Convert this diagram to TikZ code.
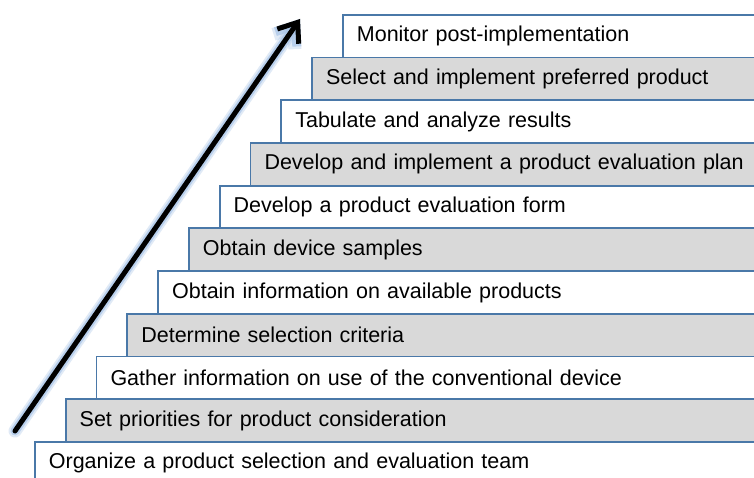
\documentclass[tikz,border=0pt]{standalone}
\usepackage{fontspec}
\setmainfont{Liberation Sans}
\usetikzlibrary{arrows.meta}
\definecolor{barblue}{HTML}{4A78A8}
\definecolor{bargray}{HTML}{D9D9D9}
\definecolor{glowblue}{HTML}{A8C4E8}
\begin{document}
\begin{tikzpicture}[x=1pt,y=-1pt,
  stepbar/.style={draw=barblue, line width=1.8pt, anchor=north west,
    minimum height=42.7pt, inner xsep=14pt, align=left,
    font=\fontsize{21.5}{26}\selectfont, text=black},
  glowline/.style={draw=glowblue, line cap=round, line join=round},
  arrowline/.style={draw=black, line width=5pt, line cap=round, line join=round}]
\useasboundingbox (0,0) rectangle (754,478);
\fill[white] (0,0) rectangle (754,478);
\begin{scope}
\clip (0,0) rectangle (754,478);
\foreach \i/\f/\t in {
  0/white/{Organize a product selection and evaluation team},
  1/bargray/{Set priorities for product consideration},
  2/white/{Gather information on use of the conventional device},
  3/bargray/{Determine selection criteria},
  4/white/{Obtain information on available products},
  5/bargray/{Obtain device samples},
  6/white/{Develop a product evaluation form},
  7/bargray/{Develop and implement a product evaluation plan},
  8/white/{Tabulate and analyze results},
  9/bargray/{Select and implement preferred product},
  10/white/{Monitor post-implementation}}{
  \pgfmathsetmacro\xl{34+30.8*\i}
  \pgfmathsetmacro\yt{441-42.7*\i}
  \pgfmathsetmacro\tw{790-\xl-28}
  \node[stepbar, fill=\f, text width=\tw pt] (s\i) at (\xl,\yt) {\t};
}
\end{scope}
\coordinate (tail) at (15,431);
\coordinate (tip) at (300,19);
\draw[glowline, line width=13pt, opacity=0.35,
  -{Straight Barb[length=17pt,width=26pt]}] (tail) -- (tip);
\draw[glowline, line width=9pt, opacity=0.7,
  -{Straight Barb[length=17pt,width=26pt]}] (tail) -- (tip);
\draw[arrowline, -{Straight Barb[length=17pt,width=26pt]}] (tail) -- (tip);
\end{tikzpicture}
\end{document}
